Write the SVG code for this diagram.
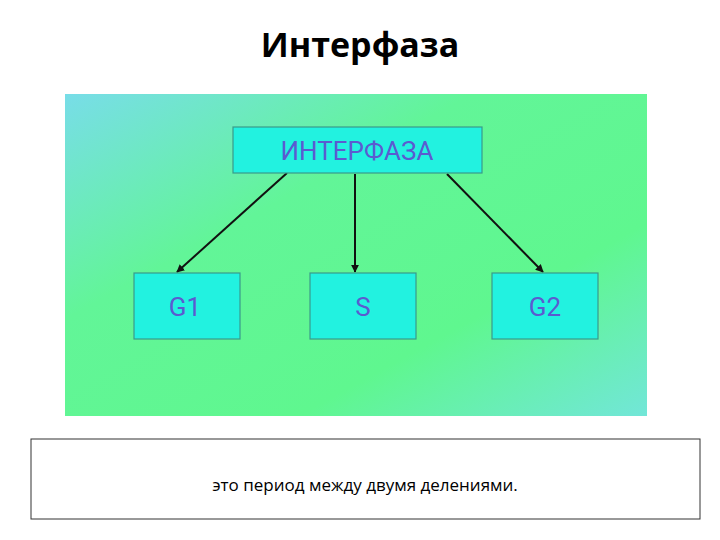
<svg xmlns="http://www.w3.org/2000/svg" width="720" height="540" viewBox="0 0 720 540">
<defs>
<linearGradient id="bg" x1="0" y1="0" x2="1" y2="1">
<stop offset="0" stop-color="#78dde8"/>
<stop offset="0.35" stop-color="#62f598"/>
<stop offset="0.7" stop-color="#5ff78f"/>
<stop offset="1" stop-color="#72e6d8"/>
</linearGradient>
<marker id="ah" viewBox="0 0 10 10" refX="9" refY="5" markerWidth="4" markerHeight="4" orient="auto"><path d="M0,0 L10,5 L0,10 z" fill="#111"/></marker>
</defs>
<style>
.box{fill:#22f2e0;stroke:#3a9a8a;stroke-width:1.2}
.lbl{font-family:Roboto,"Noto Sans",sans-serif;font-size:26px;fill:#5b5bd0;text-anchor:middle}
.c{stroke:#111;stroke-width:2;fill:none;marker-end:url(#ah)}
</style>
<rect width="720" height="540" fill="#fff"/>
<text x="360" y="57" font-family="'Open Sans','Noto Sans',sans-serif" font-weight="bold" font-size="34" text-anchor="middle" fill="#000">Интерфаза</text>
<rect x="65" y="94" width="582" height="322" fill="url(#bg)"/>
<g id="connectors">
<line class="c" x1="287" y1="173" x2="177" y2="272"/>
<line class="c" x1="355" y1="174" x2="355" y2="272"/>
<line class="c" x1="447" y1="174" x2="543" y2="272"/>
</g>
<g id="n-interfaza"><rect class="box" x="233" y="127" width="249" height="46"/><text class="lbl" x="357" y="160">ИНТЕРФАЗА</text></g>
<g id="n-g1"><rect class="box" x="134" y="273" width="106" height="66"/><text class="lbl" x="185" y="316">G1</text></g>
<g id="n-s"><rect class="box" x="310" y="273" width="106" height="66"/><text class="lbl" x="363" y="316">S</text></g>
<g id="n-g2"><rect class="box" x="492" y="273" width="106" height="66"/><text class="lbl" x="545" y="316">G2</text></g>
<g id="caption"><rect x="31" y="439" width="669" height="80" fill="#fff" stroke="#333" stroke-width="1"/>
<text x="365" y="491" font-family="'Open Sans','Noto Sans',sans-serif" font-size="17" text-anchor="middle" fill="#000">это период между двумя делениями.</text></g>
</svg>
